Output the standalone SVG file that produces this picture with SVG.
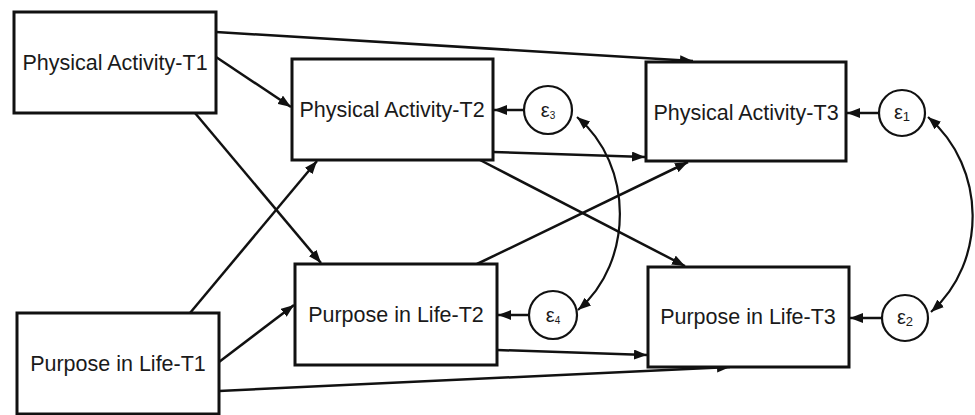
<svg xmlns="http://www.w3.org/2000/svg" width="975" height="415" viewBox="0 0 975 415">
  <style>
    .box { fill: #ffffff; stroke: #111111; stroke-width: 3; }
    .err { fill: #ffffff; stroke: #111111; stroke-width: 2.2; }
    .lbl { font-family: "Liberation Sans", Arial, sans-serif; font-size: 21.5px; fill: #1a1a1a; text-anchor: middle; }
    .eps { font-family: "Liberation Sans", Arial, sans-serif; font-size: 20px; fill: #1a1a1a; text-anchor: middle; }
    .sub { font-size: 13px; }
    .subs { font-size: 10px; }
    .edge { fill: none; stroke: #111111; stroke-width: 2.5; marker-end: url(#head); }
    .cov { fill: none; stroke: #111111; stroke-width: 2.2; marker-start: url(#head); marker-end: url(#head); }
  </style>
  <defs>
    <marker id="head" markerUnits="userSpaceOnUse" markerWidth="14" markerHeight="10" refX="13" refY="5" orient="auto-start-reverse">
      <path d="M0,0 L13,5 L0,10 z" fill="#111111"/>
    </marker>
  </defs>

  <rect width="975" height="415" fill="#ffffff"/>

  <!-- paths between measures -->
  <g id="connectors">
    <line class="edge" x1="216" y1="32" x2="693" y2="61"/>
    <line class="edge" x1="216" y1="57" x2="291" y2="107"/>
    <line class="edge" x1="195" y1="113" x2="321" y2="263"/>
    <line class="edge" x1="190" y1="313" x2="317" y2="161"/>
    <line class="edge" x1="219" y1="362" x2="294" y2="305"/>
    <line class="edge" x1="219" y1="391" x2="730" y2="367"/>
    <line class="edge" x1="493" y1="152" x2="645" y2="157"/>
    <line class="edge" x1="480" y1="160" x2="685" y2="266"/>
    <line class="edge" x1="477" y1="264" x2="688" y2="162"/>
    <line class="edge" x1="497" y1="350" x2="647" y2="355"/>
    <line class="edge" x1="524" y1="110" x2="494" y2="110"/>
    <line class="edge" x1="529" y1="315" x2="498" y2="315"/>
    <line class="edge" x1="879" y1="113" x2="847" y2="113"/>
    <line class="edge" x1="882" y1="318" x2="850" y2="318"/>
    <path class="cov" d="M577,117 C634,165 634,262 578,310"/>
    <path class="cov" d="M928,117 C987,168 987,262 931,312"/>
  </g>

  <g id="pa_t1">
    <rect class="box" x="14" y="12" width="202" height="101"/>
    <text class="lbl" x="115" y="70">Physical Activity-T1</text>
  </g>
  <g id="pa_t2">
    <rect class="box" x="292" y="59" width="201" height="101"/>
    <text class="lbl" x="392" y="117">Physical Activity-T2</text>
  </g>
  <g id="pa_t3">
    <rect class="box" x="646" y="62" width="200" height="99"/>
    <text class="lbl" x="746" y="120">Physical Activity-T3</text>
  </g>
  <g id="pl_t1">
    <rect class="box" x="17" y="313" width="202" height="101"/>
    <text class="lbl" x="118" y="371">Purpose in Life-T1</text>
  </g>
  <g id="pl_t2">
    <rect class="box" x="295" y="264" width="202" height="101"/>
    <text class="lbl" x="396" y="322">Purpose in Life-T2</text>
  </g>
  <g id="pl_t3">
    <rect class="box" x="648" y="267" width="201" height="100"/>
    <text class="lbl" x="748" y="324">Purpose in Life-T3</text>
  </g>

  <g id="e1">
    <circle class="err" cx="902" cy="113" r="23"/>
    <text class="eps" x="902" y="119">ε<tspan class="sub" dy="2">1</tspan></text>
  </g>
  <g id="e2">
    <circle class="err" cx="905" cy="318" r="23"/>
    <text class="eps" x="905" y="324">ε<tspan class="sub" dy="2">2</tspan></text>
  </g>
  <g id="e3">
    <circle class="err" cx="548" cy="110" r="24"/>
    <text class="eps" x="548" y="117">ε<tspan class="subs" dy="2">3</tspan></text>
  </g>
  <g id="e4">
    <circle class="err" cx="553" cy="315" r="24"/>
    <text class="eps" x="553" y="322">ε<tspan class="subs" dy="2">4</tspan></text>
  </g>
</svg>
